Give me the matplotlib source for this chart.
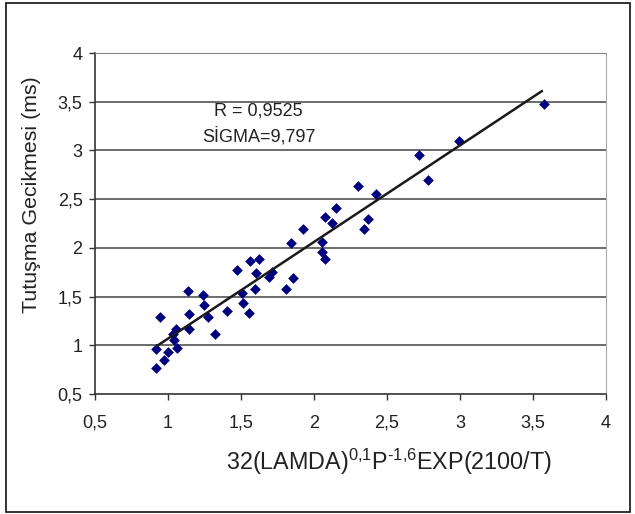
import numpy as np
import matplotlib
matplotlib.use("Agg")
import matplotlib.pyplot as plt
from matplotlib.patches import Rectangle

plt.rcParams["font.family"] = ["Liberation Sans", "DejaVu Sans"]
plt.rcParams["mathtext.fontset"] = "custom"
plt.rcParams["mathtext.rm"] = "Liberation Sans"
plt.rcParams["mathtext.it"] = "Liberation Sans"
plt.rcParams["mathtext.default"] = "regular"

# measured points (correlation parameter vs. ignition delay, ms)
x_vals = [0.917, 0.917, 0.947, 0.975, 0.997, 1.031, 1.053, 1.042, 1.064,
          1.136, 1.144, 1.144, 1.239, 1.247, 1.275, 1.325, 1.406, 1.475,
          1.506, 1.514, 1.556, 1.564, 1.594, 1.603, 1.625, 1.694, 1.714,
          1.806, 1.842, 1.853, 1.925, 2.053, 2.053, 2.072, 2.072, 2.125,
          2.153, 2.303, 2.342, 2.372, 2.425, 2.722, 2.783, 2.992, 3.572]
y_vals = [0.769, 0.964, 1.291, 0.848, 0.936, 1.113, 1.165, 1.056, 0.977,
          1.560, 1.325, 1.171, 1.516, 1.413, 1.291, 1.113, 1.352, 1.768,
          1.540, 1.437, 1.335, 1.870, 1.574, 1.737, 1.884, 1.703, 1.751,
          1.574, 2.051, 1.693, 2.197, 2.064, 1.962, 1.884, 2.317, 2.259,
          2.405, 2.630, 2.197, 2.300, 2.555, 2.957, 2.692, 3.094, 3.475]

# trend line end points
fit_x = [0.925, 3.56]
fit_y = [0.994, 3.608]

ticks = [0.5, 1, 1.5, 2, 2.5, 3, 3.5, 4]
tick_labels = ["0,5", "1", "1,5", "2", "2,5", "3", "3,5", "4"]

fig = plt.figure(figsize=(6.35, 5.14), dpi=100)
ax = fig.add_axes([95 / 635, 1 - 394 / 514, (606 - 95) / 635, (394 - 53) / 514])

ax.set_xlim(0.5, 4)
ax.set_ylim(0.5, 4)
ax.set_xticks(ticks)
ax.set_xticklabels(tick_labels)
ax.set_yticks(ticks)
ax.set_yticklabels(tick_labels)
ax.tick_params(direction="out", length=4, width=1, color="#333333",
               labelsize=13, labelcolor="#222222")
ax.tick_params(axis="x", pad=11)
ax.tick_params(axis="y", pad=5)

for y in ticks[1:-1]:
    ax.axhline(y, color="#444444", lw=1.1, zorder=1)

ax.spines["left"].set_color("#333333")
ax.spines["bottom"].set_color("#333333")
ax.spines["left"].set_linewidth(1.2)
ax.spines["bottom"].set_linewidth(1.2)
ax.spines["top"].set_color("#888888")
ax.spines["right"].set_color("#aaaaaa")

ax.scatter(x_vals, y_vals, marker="D", s=30, color="#00007f", zorder=3,
           linewidths=0)
ax.plot(fit_x, fit_y, color="#1a1a1a", lw=1.8, zorder=4)

ax.text(1.62, 3.40, "R = 0,9525", ha="center", va="center", fontsize=13,
        color="#222222")
ax.text(1.62, 3.15, "SİGMA=9,797", ha="center", va="center", fontsize=13,
        color="#222222")

fig.text(32 / 635, 1 - 195 / 514, "Tutuşma Gecikmesi (ms)", rotation=90,
         ha="center", va="center", fontsize=15.4, color="#222222")
fig.text(389 / 635, 1 - 462 / 514,
         r"32(LAMDA)$^{0{,}1}$P$^{\mathrm{\text{-}}1{,}6}$EXP(2100/T)",
         ha="center", va="center", fontsize=16.8, color="#222222")

fig.patches.append(Rectangle((6 / 635, 2 / 514), 624 / 635, 509 / 514,
                             transform=fig.transFigure, fill=False,
                             edgecolor="#222222", lw=1.3))

fig.savefig("out.png", dpi=100)
